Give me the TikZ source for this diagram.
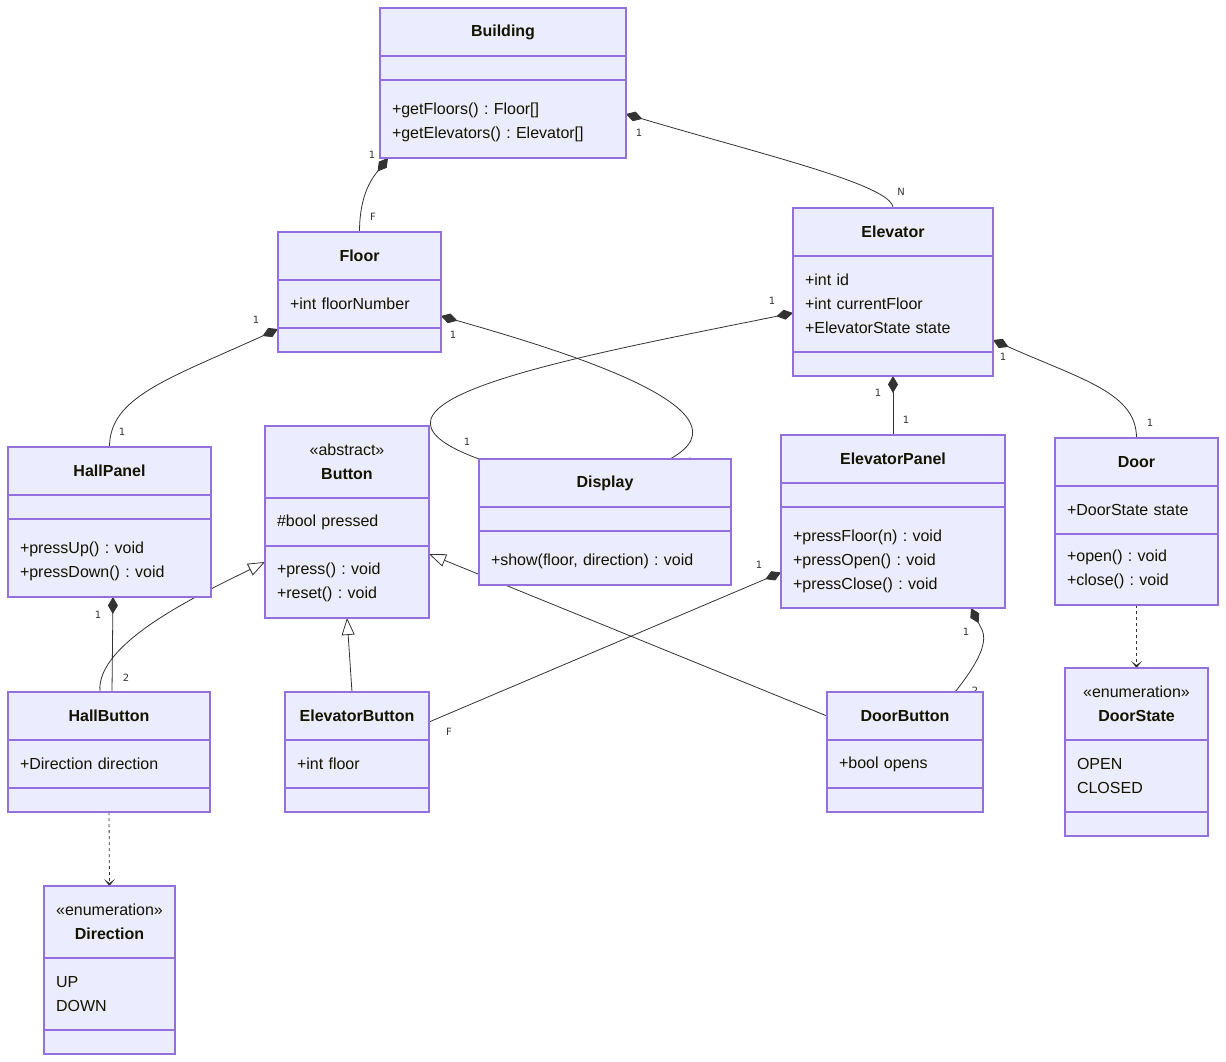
\documentclass[tikz,border=0pt]{standalone}
\usepackage{fontspec}
\setmainfont{Liberation Sans}
\newfontfamily\cardfont{DejaVu Sans}
\usetikzlibrary{positioning,arrows.meta,backgrounds}
\frenchspacing

\definecolor{umlfill}{HTML}{ECECFF}
\definecolor{umlline}{HTML}{9370DB}
\definecolor{edgecol}{HTML}{333333}
\definecolor{txtcol}{HTML}{131300}

% #1 name, #2 corner, #3 width, #4 head height, #5 head,
% #6 attr height, #7 attrs, #8 method height, #9 methods
\newcommand{\umlclass}[9]{%
  \node[umlhead, minimum width=#3, minimum height=#4] (#1) at #2 {#5};
  \node[umlpart, minimum width=#3, text width=#3-24, minimum height=#6, below=0pt of #1] (#1-a) {#7};
  \node[umlpart, minimum width=#3, text width=#3-24, minimum height=#8, below=0pt of #1-a] (#1-m) {#9};
}
% extra top room when the attribute part is empty
\newcommand{\toppad}{\rule{0pt}{19pt}}

\begin{document}
\begin{tikzpicture}[x=1pt, y=-1pt, font=\fontsize{16}{24}\selectfont,
    umlhead/.style={draw=umlline, fill=umlfill, line width=1.2pt, anchor=north west,
      align=center, inner sep=0pt, outer sep=0pt, text=txtcol},
    umlpart/.style={draw=umlline, fill=umlfill, line width=1.2pt, align=left,
      inner xsep=12pt, inner ysep=0pt, outer sep=0pt, text=txtcol},
    comp/.style={draw=edgecol, line width=0.8pt, {Diamond[length=17pt,width=10pt]}-},
    inherit/.style={draw=edgecol, line width=0.8pt, -{Triangle[open,length=17pt,width=13pt,fill=white]}},
    depend/.style={draw=edgecol, line width=0.8pt, dash pattern=on 3pt off 3pt,
      -{Stealth[length=7pt,width=11pt,inset=4pt]}},
    card/.style={font=\cardfont\fontsize{10}{12}\selectfont, text=edgecol, inner sep=0pt}]
\useasboundingbox (0,0) rectangle (1226,1062);

\umlclass{building}{(380,8)}{246}{48}{\textbf{Building}}{24}{}{78}{\toppad+getFloors() : Floor[]\\+getElevators() : Elevator[]}
\umlclass{floor}{(278,232)}{163}{48}{\textbf{Floor}}{48}{+int floorNumber}{24}{}
\umlclass{elevator}{(793,208)}{200}{48}{\textbf{Elevator}}{96}{+int id\\+int currentFloor\\+ElevatorState state}{24}{}
\umlclass{hallpanel}{(8,447)}{203}{48}{\textbf{HallPanel}}{24}{}{78}{\toppad+pressUp() : void\\+pressDown() : void}
\umlclass{button}{(265,426)}{164}{72}{«abstract»\\\textbf{Button}}{48}{\#bool pressed}{72}{+press() : void\\+reset() : void}
\umlclass{display}{(479,459)}{252}{48}{\textbf{Display}}{24}{}{54}{\toppad+show(floor, direction) : void}
\umlclass{elevatorpanel}{(781,435)}{224}{48}{\textbf{ElevatorPanel}}{24}{}{101}{\toppad+pressFloor(n) : void\\+pressOpen() : void\\+pressClose() : void}
\umlclass{door}{(1055,438)}{163}{48}{\textbf{Door}}{48}{+DoorState state}{71}{+open() : void\\+close() : void}
\umlclass{hallbutton}{(8,692)}{202}{48}{\textbf{HallButton}}{48}{+Direction direction}{24}{}
\umlclass{elevatorbutton}{(285,692)}{144}{48}{\textbf{ElevatorButton}}{48}{+int floor}{24}{}
\umlclass{doorbutton}{(827,692)}{156}{48}{\textbf{DoorButton}}{48}{+bool opens}{24}{}
\umlclass{doorstate}{(1065,668)}{143}{72}{«enumeration»\\\textbf{DoorState}}{72}{OPEN\\CLOSED}{24}{}
\umlclass{direction}{(44,886)}{131}{72}{«enumeration»\\\textbf{Direction}}{72}{UP\\DOWN}{24}{}

\begin{scope}[on background layer]
  \fill[white] (0,0) rectangle (1226,1062);
  % compositions
  \draw[comp] ([shift={(8,0)}]building-m.south west) .. controls +(-14,18) and +(0,-40) .. (floor.north);
  \draw[comp] ([shift={(0,-5)}]building-m.east) .. controls +(134,40) and +(0,-23) .. (elevator.north);
  \draw[comp] ([shift={(0,1)}]floor-m.north west) .. controls +(-110,50) and +(0,-50) .. (hallpanel.north);
  \draw[comp] ([shift={(0,-12)}]floor-a.south east) .. controls +(119,34) and +(90,-49) .. ([shift={(-61,0)}]display.north east);
  \draw[comp] ([shift={(0,9)}]elevator-a.west) .. controls +(-233,47) and +(-152,-56) .. (display.north west);
  \draw[comp] (elevator-m.south) -- (elevatorpanel.north);
  \draw[comp] ([shift={(0,-12)}]elevator-a.south east) .. controls +(90,40) and +(0,-45) .. (door.north);
  \draw[comp] ([shift={(3.5,0)}]hallpanel-m.south) -- ([shift={(3,0)}]hallbutton.north);
  \draw[comp] ([shift={(0,15)}]elevatorpanel-m.west) -- ([shift={(0,6)}]elevatorbutton.east);
  \draw[comp] ([shift={(-34,0)}]elevatorpanel-m.south east) .. controls +(12,24) and +(40,-50) .. ([shift={(-28,0)}]doorbutton.north east);
  % inheritance
  \draw[inherit] ([shift={(-9,0)}]hallbutton.north) .. controls +(-5,-50) and +(-60,30) .. ([shift={(0,-20)}]button-m.west);
  \draw[inherit] ([shift={(-5,0)}]elevatorbutton.north) -- (button-m.south);
  \draw[inherit] (doorbutton.west) -- ([shift={(0,-28)}]button-m.east);
  % dependencies
  \draw[depend] (hallbutton-m.south) -- (direction.north);
  \draw[depend] (door-m.south) -- (doorstate.north);
  % multiplicities
  \node[card] (c1) at (372,155) {1};
  \node[card] (c2) at (373,217) {F};
  \node[card] (c3) at (639,133) {1};
  \node[card] (c4) at (901,192) {N};
  \node[card] (c5) at (256,320) {1};
  \node[card] (c6) at (122,432) {1};
  \node[card] (c7) at (453,335) {1};
  \node[card] (c8) at (690,462) {1};
  \node[card] (c9) at (772,301) {1};
  \node[card] (c10) at (467,442) {1};
  \node[card] (c11) at (878,393) {1};
  \node[card] (c12) at (906,420) {1};
  \node[card] (c13) at (1003,357) {1};
  \node[card] (c14) at (1150,423) {1};
  \node[card] (c15) at (98,615) {1};
  \node[card] (c16) at (126,678) {2};
  \node[card] (c17) at (759,565) {1};
  \node[card] (c18) at (449,732) {F};
  \node[card] (c19) at (966,632) {1};
  \node[card] (c20) at (975,691) {2};
\end{scope}
\end{tikzpicture}
\end{document}
